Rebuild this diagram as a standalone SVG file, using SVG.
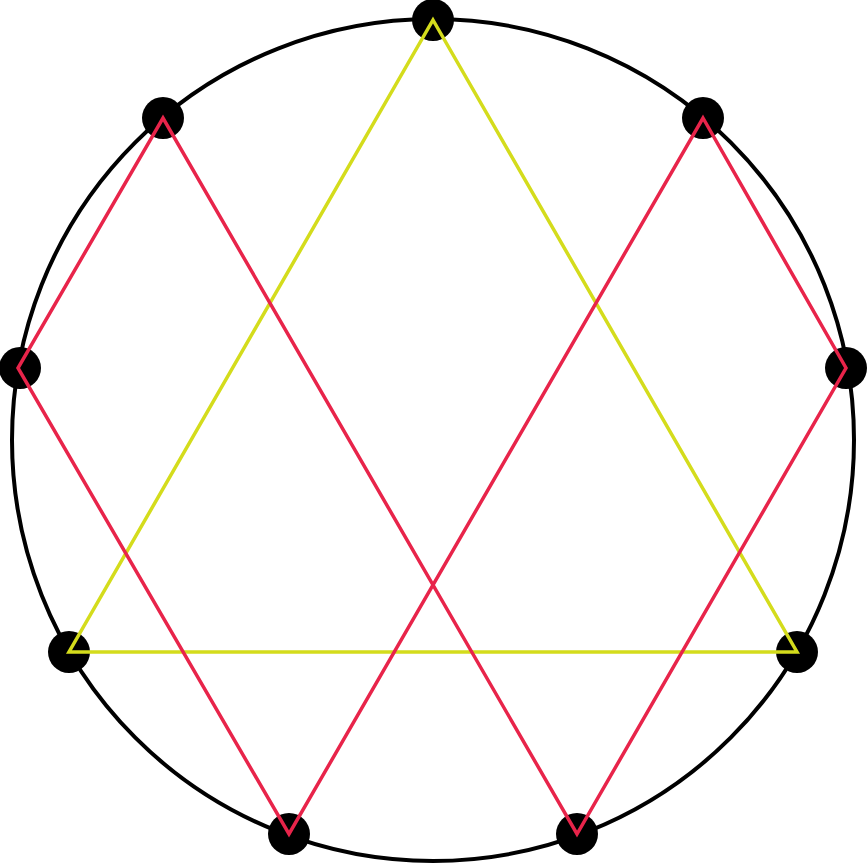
<svg xmlns="http://www.w3.org/2000/svg" width="867" height="864" viewBox="0 0 867 864">
<style>
.ring{fill:none;stroke:#000;stroke-width:4}
.dot{fill:#000}
.tri{fill:none;stroke:#d4dc1c;stroke-width:3.5;stroke-linejoin:miter}
.hex{fill:none;stroke:#e8244a;stroke-width:3.5;stroke-linejoin:miter}
</style>
<rect width="867" height="864" fill="#fff"/>
<circle class="ring" cx="433" cy="440" r="421"/>
<g id="p9"><circle class="dot" cx="433" cy="20" r="21"/></g>
<g id="p1"><circle class="dot" cx="703" cy="118" r="21"/></g>
<g id="p2"><circle class="dot" cx="846" cy="368" r="21"/></g>
<g id="p3"><circle class="dot" cx="797" cy="652" r="21"/></g>
<g id="p4"><circle class="dot" cx="577" cy="834" r="21"/></g>
<g id="p5"><circle class="dot" cx="289" cy="834" r="21"/></g>
<g id="p6"><circle class="dot" cx="69" cy="652" r="21"/></g>
<g id="p7"><circle class="dot" cx="20" cy="368" r="21"/></g>
<g id="p8"><circle class="dot" cx="163" cy="118" r="21"/></g>
<g id="connectors">
<polygon class="tri" points="433,20 797,652 69,652"/>
<polygon class="hex" points="703,118 846,368 577,834 163,118 18,368 289,834"/>
</g>
</svg>
